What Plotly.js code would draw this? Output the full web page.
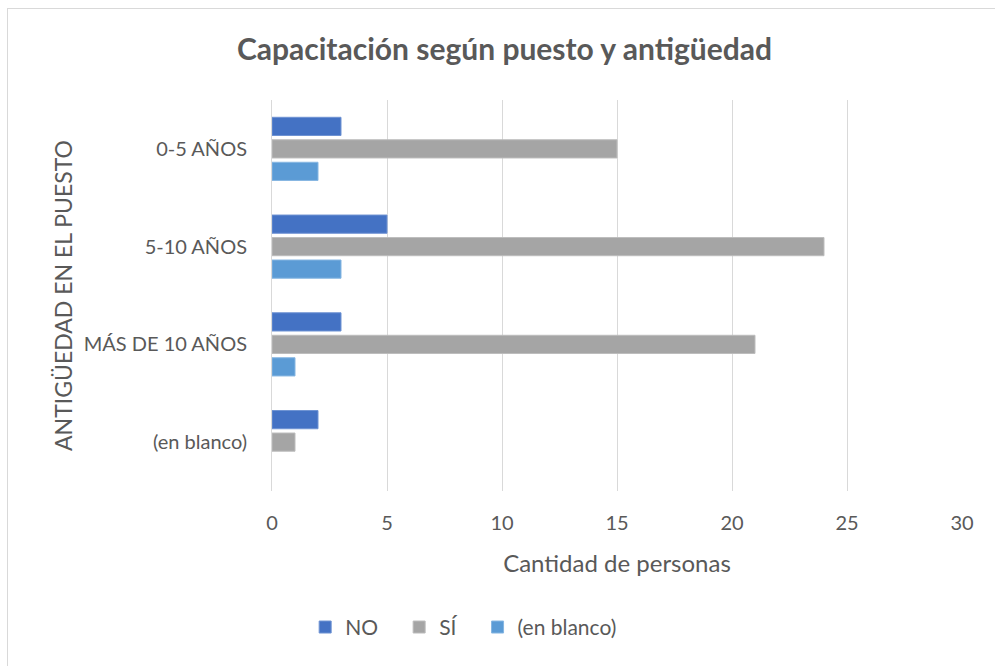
<!DOCTYPE html>
<html>
<head>
<meta charset="utf-8">
<script src="https://cdn.plot.ly/plotly-3.0.1.min.js"></script>
<style>
  body { margin: 0; background: #fff; }
  #frame { position: absolute; left: 7px; top: 8px; width: 1000px; height: 700px; border: 1px solid #d9d9d9; box-sizing: border-box; }
  #plot { position: absolute; left: 0; top: 0; width: 995px; height: 666px; }
</style>
</head>
<body>
<div id="frame"></div>
<div id="plot"></div>
<script>
// Categorías (de arriba a abajo)
const categories = ['0-5 AÑOS', '5-10 AÑOS', 'MÁS DE 10 AÑOS', '(en blanco)'];

// Series
const seriesNames = ['NO', 'SÍ', '(en blanco)'];
const valuesNo = [3, 5, 3, 2];
const valuesSi = [15, 24, 21, 1];
const valuesBlanco = [2, 3, 1, null];

const COLORS = ['#4472C4', '#A5A5A5', '#5B9BD5'];
const BORDERS = ['#6f93d3', '#bdbdbd', '#86b6e2'];

const FONT = 'Lato, "Open Sans", sans-serif';
const TEXT = '#595959';
// espacio extra tras cada entrada de leyenda (como en Excel)
const PAD = '\u00a0\u00a0\u00a0';

const traces = [valuesNo, valuesSi, valuesBlanco].map((vals, i) => ({
    type: 'bar',
    orientation: 'h',
    name: i < 2 ? seriesNames[i] + PAD : seriesNames[i],
    y: categories,
    x: vals,
    marker: { color: COLORS[i], line: { color: BORDERS[i], width: 1 } },
    hovertemplate: seriesNames[i] + ': %{x}<extra></extra>'
}));

const layout = {
    width: 995,
    height: 666,
    margin: { l: 272, r: 33, t: 100, b: 175 },
    paper_bgcolor: 'rgba(0,0,0,0)',
    plot_bgcolor: 'rgba(0,0,0,0)',
    font: { family: FONT, color: TEXT, size: 20 },
    title: {
        text: '<b>Capacitación según puesto y antigüedad</b>',
        font: { family: FONT, size: 30, color: TEXT },
        x: 0.507, xref: 'container', xanchor: 'center',
        y: 0.925, yref: 'container', yanchor: 'middle'
    },
    barmode: 'group',
    bargap: 0.31,
    bargroupgap: 0.19,
    xaxis: {
        range: [0, 30],
        dtick: 5,
        showgrid: true,
        gridcolor: '#d9d9d9',
        gridwidth: 1,
        zeroline: false,
        showline: false,
        ticks: '',
        ticklabelstandoff: 18,
        tickfont: { size: 20, color: TEXT },
        title: { text: 'Cantidad de personas', font: { size: 24, color: TEXT }, standoff: 22 }
    },
    yaxis: {
        type: 'category',
        autorange: 'reversed',
        showgrid: false,
        zeroline: false,
        showline: true,
        linecolor: '#d9d9d9',
        linewidth: 1,
        ticks: '',
        ticklabelstandoff: 20,
        tickfont: { size: 20, color: TEXT },
        title: { text: 'ANTIGÜEDAD EN EL PUESTO', font: { size: 23, color: TEXT }, standoff: 4 }
    },
    legend: {
        orientation: 'h',
        x: 0.466, xref: 'container', xanchor: 'center',
        y: 0.058, yref: 'container', yanchor: 'middle',
        font: { size: 21, color: TEXT },
        itemwidth: 30,
        traceorder: 'normal'
    },
    showlegend: true
};

Plotly.newPlot('plot', traces, layout, { displayModeBar: false });
</script>
</body>
</html>
